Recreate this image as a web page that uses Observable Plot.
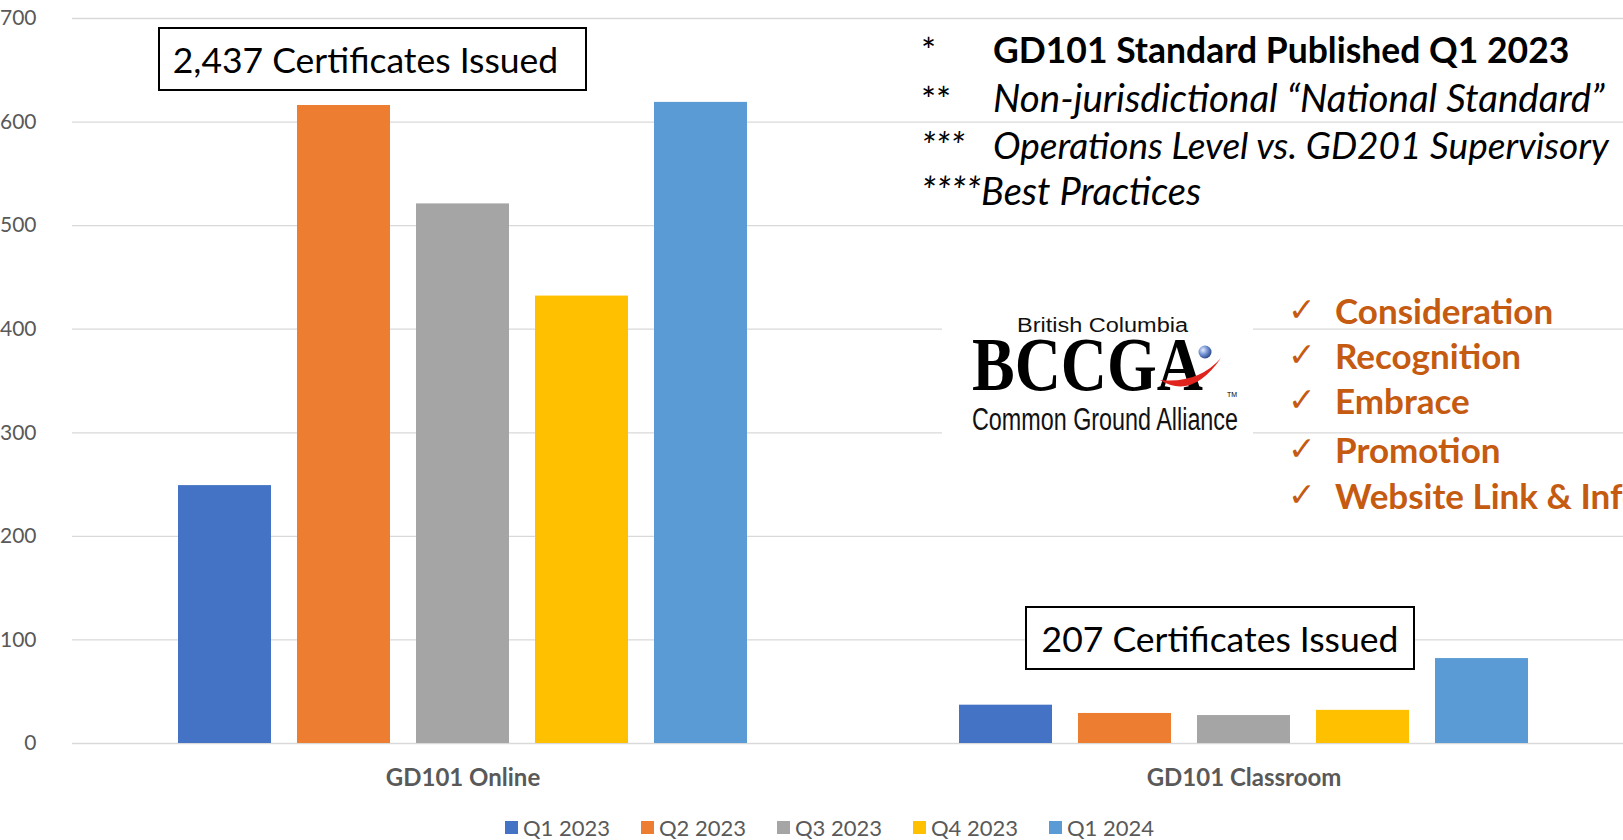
<!DOCTYPE html>
<html>
<head>
<meta charset="utf-8">
<script src="https://cdn.jsdelivr.net/npm/d3@7"></script>
<script src="https://cdn.jsdelivr.net/npm/@observablehq/plot@0.6"></script>
<style>
  html, body { margin: 0; padding: 0; background: #fff; overflow: hidden; }
  #wrap { position: relative; width: 1623px; height: 840px; overflow: hidden; font-family: Lato, "Open Sans", sans-serif; }
  #chart svg { display: block; }
  .box { position: absolute; border: 2px solid #000; background: #fff; box-sizing: border-box;
         display: flex; align-items: center; justify-content: center; font-size: 35.5px; color: #000; white-space: nowrap; }
  .note { position: absolute; left: 921px; height: 47px; line-height: 47px; font-size: 35.5px; color: #000; white-space: nowrap; }
  .note .ast { display: inline-block; width: 72px; }
  .check { position: absolute; left: 1288px; height: 44px; line-height: 44px; font-size: 35px; font-weight: bold; color: #C55A11; white-space: nowrap; }
  .check .tick { display: inline-block; width: 47px; font-family: "DejaVu Sans", sans-serif; font-weight: normal; font-size: 33px; vertical-align: top; }
  #legend { position: absolute; left: 505px; top: 812px; height: 30px; display: flex; align-items: center; }
  #legend .item { width: 136px; display: flex; align-items: center; font-size: 22px; color: #595959; white-space: nowrap; }
  #legend .sw { width: 13px; height: 13px; margin-right: 5px; }
</style>
</head>
<body>
<div id="wrap">
  <div id="chart"></div>
</div>
<script>
// ---- data ----
const categories = ["GD101 Online", "GD101 Classroom"];
const quarters = ["Q1 2023", "Q2 2023", "Q3 2023", "Q4 2023", "Q1 2024"];
const onlineValues = [249, 616, 521, 432, 619];
const classroomValues = [37, 29, 27, 32, 82];
const quarterColors = ["#4472C4", "#ED7D31", "#A5A5A5", "#FFC000", "#5B9BD5"];
const yTicks = [0, 100, 200, 300, 400, 500, 600, 700];
const totalsText = ["2,437 Certificates Issued", "207 Certificates Issued"];
const footnotes = [
  ["*", "GD101 Standard Published Q1 2023"],
  ["**", "Non-jurisdictional \u201CNational Standard\u201D"],
  ["***", "Operations Level vs. GD201 Supervisory"],
  ["****", "Best Practices"]
];
const checklist = ["Consideration", "Recognition", "Embrace", "Promotion", "Website Link & Info"];

// ---- table ----
const rows = [];
quarters.forEach((q, i) => {
  rows.push({ category: categories[0], quarter: q, value: onlineValues[i] });
  rows.push({ category: categories[1], quarter: q, value: classroomValues[i] });
});

const chart = Plot.plot({
  width: 1623,
  height: 810,
  marginTop: 18,
  marginBottom: 67,
  marginLeft: 72,
  marginRight: 0,
  style: { fontFamily: "Lato, 'Open Sans', sans-serif", background: "transparent", overflow: "visible" },
  fx: { domain: categories, range: [72, 1634], paddingInner: 0, paddingOuter: 0, label: null },
  x: { domain: quarters, paddingInner: 0.217, paddingOuter: 0.863, axis: null },
  y: { domain: [0, 700], label: null },
  color: { domain: quarters, range: quarterColors },
  marks: [
    Plot.gridY(yTicks, { stroke: "#d9d9d9", strokeOpacity: 1, strokeWidth: 1.3 }),
    Plot.barY(rows, { fx: "category", x: "quarter", y: "value", fill: "quarter" }),
    Plot.axisY(yTicks, { tickSize: 0, tickPadding: 36, fontSize: 21, fill: "#595959", label: null }),
    Plot.axisFx({ anchor: "bottom", tickSize: 0, tickPadding: 25, fontSize: 24, fontWeight: "bold", fill: "#595959", label: null })
  ]
});
document.getElementById("chart").appendChild(chart);

const wrap = document.getElementById("wrap");
function add(html) { wrap.insertAdjacentHTML("beforeend", html); }

// total boxes
add(`<div class="box" style="left:158px;top:27px;width:429px;height:64px;padding-right:14px;">${totalsText[0]}</div>`);
add(`<div class="box" style="left:1025px;top:606px;width:390px;height:64px;">${totalsText[1]}</div>`);

// footnotes
const noteTops = [26, 74, 121, 167];
add(`<div class="note" style="top:${noteTops[0]}px;"><span class="ast">${footnotes[0][0]}</span><b>${footnotes[0][1]}</b></div>`);
add(`<div class="note" style="top:${noteTops[1]}px;"><span class="ast">${footnotes[1][0]}</span><i style="font-size:38.5px">${footnotes[1][1]}</i></div>`);
add(`<div class="note" style="top:${noteTops[2]}px;"><i style="font-size:37px"><span class="ast">${footnotes[2][0]}</span>${footnotes[2][1]}</i></div>`);
add(`<div class="note" style="top:${noteTops[3]}px;"><i style="font-size:38px">${footnotes[3][0]}${footnotes[3][1]}</i></div>`);

// logo
add(`<svg style="position:absolute;left:942px;top:300px;overflow:visible;" width="311" height="145" viewBox="0 0 311 145">
  <defs>
    <radialGradient id="sph" cx="0.35" cy="0.35" r="0.7">
      <stop offset="0" stop-color="#e4ecff"/>
      <stop offset="0.5" stop-color="#7392d2"/>
      <stop offset="1" stop-color="#2a438a"/>
    </radialGradient>
  </defs>
  <rect x="0" y="0" width="311" height="145" fill="#fff"/>
  <text x="160.5" y="32" text-anchor="middle" font-family="'Liberation Sans', sans-serif" font-size="20" textLength="171" lengthAdjust="spacingAndGlyphs" fill="#111">British Columbia</text>
  <text x="30" y="90" font-family="'Liberation Serif', serif" font-weight="bold" font-size="76" textLength="231" lengthAdjust="spacingAndGlyphs" fill="#000">BCCGA</text>
  <path d="M 218 80 Q 250 100 279 58 Q 256 84 218 80 Z" fill="#e0231c"/>
  <circle cx="263" cy="52" r="6.5" fill="url(#sph)"/>
  <text x="285" y="97" font-family="'Liberation Sans', sans-serif" font-size="7" fill="#000">TM</text>
  <text x="30" y="130" font-family="'Liberation Sans Narrow', 'Liberation Sans', sans-serif" font-size="31" textLength="266" lengthAdjust="spacingAndGlyphs" fill="#111">Common Ground Alliance</text>
</svg>`);

// checklist
const checkCenters = [310, 355, 400, 449, 495];
checklist.forEach((t, i) => {
  add(`<div class="check" style="top:${checkCenters[i] - 22}px;"><span class="tick">\u2713</span>${t}</div>`);
});

// legend
const legendItems = quarters.map((q, i) =>
  `<div class="item"><span class="sw" style="background:${quarterColors[i]}"></span>${q}</div>`).join("");
add(`<div id="legend">${legendItems}</div>`);
</script>
</body>
</html>
